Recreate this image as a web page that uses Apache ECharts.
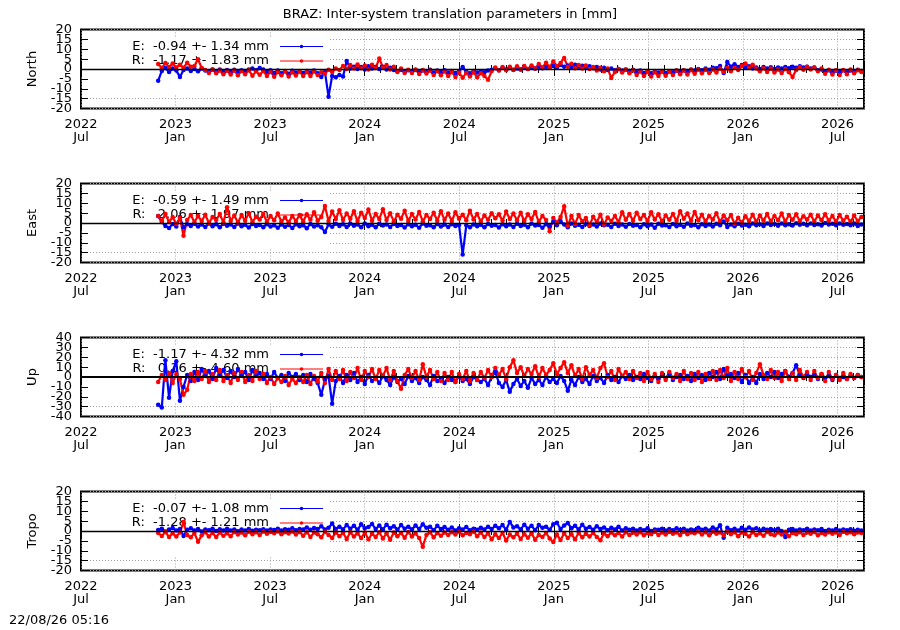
<!DOCTYPE html>
<html><head><meta charset="utf-8">
<script src="https://cdn.jsdelivr.net/npm/echarts@6/dist/echarts.min.js"></script>
<style>html,body{margin:0;padding:0;background:#fff}#c{width:900px;height:630px}</style>
</head><body><div id="c"></div>
<script>
const TITLE = 'BRAZ: Inter-system translation parameters in [mm]';
const STAMP = '22/08/26 05:16';
const PANELS = ['North', 'East', 'Up', 'Tropo'];
const Y_MIN = [-20, -20, -40, -20];
const Y_MAX = [20, 20, 40, 20];
const Y_STEP = [5, 5, 10, 5];
const LEGEND_E = ['E:  -0.94 +- 1.34 mm', 'E:  -0.59 +- 1.49 mm', 'E:  -1.17 +- 4.32 mm', 'E:  -0.07 +- 1.08 mm'];
const LEGEND_R = ['R:  -1.17 +- 1.83 mm', 'R:   2.06 +- 1.97 mm', 'R:   0.16 +- 4.60 mm', 'R:  -1.28 +- 1.21 mm'];
const X_TICK_LABELS = [['2022','Jul'],['2023','Jan'],['2023','Jul'],['2024','Jan'],['2024','Jul'],['2025','Jan'],['2025','Jul'],['2026','Jan'],['2026','Jul']];
const X_START = '2022-07-01';
const X_END = '2026-08-21';
const START = '2022-11-27';
const STEP_DAYS = 7;

const NORTH_E = [
-6.0,-1.0,0.5,-1.5,0.2,-0.8,-4.0,-0.5,0.3,-1.0,
0.0,-1.2,0.2,-0.8,-1.5,-0.3,-1.4,-0.2,-1.6,-0.5,
-1.5,-0.4,-1.2,-0.6,-1.0,-0.2,0.3,-0.6,0.5,-0.3,
-1.4,-0.6,-2.0,-0.8,-2.2,-1.0,-2.4,-0.9,-1.8,-1.2,
-2.0,-1.0,-1.8,-0.8,-2.2,-4.0,-1.5,-14.0,-3.5,-4.2,
-3.0,-3.8,4.0,0.2,1.2,0.0,1.0,-0.2,1.4,0.3,
1.0,0.0,1.2,-0.2,0.6,-0.5,-1.2,-0.4,-1.5,-0.6,
-1.3,-0.5,-1.6,-0.7,-1.2,-0.4,-1.8,-0.8,-1.5,-0.6,
-1.8,-1.0,-2.0,-1.2,1.0,-1.4,-2.2,-1.0,-1.8,-1.2,
-1.6,-0.8,-0.4,0.4,-0.6,0.6,-0.2,0.5,-0.5,0.3,
-0.3,0.6,0.0,0.8,0.2,1.0,0.4,1.2,0.6,1.5,
0.8,2.0,1.2,1.8,0.8,2.2,1.0,1.6,0.6,1.4,
0.4,1.0,-0.2,0.6,-0.5,0.2,-0.6,0.0,-0.8,-0.2,
-1.0,-0.4,-1.6,-0.8,-2.0,-1.0,-2.2,-1.2,-1.8,-1.0,
-2.0,-1.2,-1.6,-0.8,-1.4,-0.6,-1.0,-0.2,-0.8,0.0,
-0.6,0.2,-0.4,0.6,0.4,1.5,-2.0,3.5,1.2,2.4,
1.0,2.0,0.8,1.4,0.2,0.8,0.0,1.0,0.2,0.9,
0.0,0.8,0.2,1.0,0.4,1.2,0.6,1.4,0.8,1.2,
0.2,0.8,-0.6,-0.2,-1.4,-0.6,-1.6,-0.8,-1.4,-0.6,
-1.6,-0.8,-1.2,-0.4,-1.0];
const NORTH_R = [
2.5,0.5,3.0,1.0,2.8,0.8,2.2,0.6,3.2,1.2,
1.5,5.0,0.5,-0.5,-2.0,-0.3,-2.2,-0.8,-2.6,-0.9,
-2.8,-0.8,-3.2,-1.0,-2.6,-0.6,-3.4,-1.2,-2.9,-1.0,
-3.6,-1.4,-3.9,-1.5,-3.2,-1.2,-3.8,-1.7,-3.3,-1.3,
-3.5,-1.5,-3.6,-1.2,-3.0,-1.6,-2.4,-0.4,-1.5,0.3,
-0.5,1.5,0.0,2.0,0.2,2.3,0.4,1.8,-0.2,2.2,
0.5,5.3,0.8,2.0,-0.2,1.2,-1.5,0.2,-2.0,-0.4,
-2.0,-0.2,-2.5,-0.5,-2.3,-0.8,-3.0,-1.0,-3.2,-1.2,
-3.6,-1.5,-4.0,-1.8,-4.4,-2.0,-3.8,-1.6,-4.2,-2.2,
-3.5,-5.5,-1.0,0.8,-0.8,1.0,-0.6,1.2,-0.4,1.4,
-0.3,1.5,0.0,1.8,0.3,2.5,0.8,3.2,1.0,3.8,
1.5,3.0,5.6,1.2,2.6,0.4,2.0,0.2,1.8,0.0,
1.0,-0.8,0.6,-1.2,0.2,-4.5,-1.5,0.0,-1.8,-0.3,
-2.2,-0.6,-3.0,-1.2,-3.6,-1.4,-3.8,-1.6,-3.5,-1.3,
-3.4,-1.2,-3.0,-0.8,-2.6,-0.6,-2.8,-0.5,-2.4,-0.3,
-2.2,-0.4,-2.0,-0.2,-1.8,0.2,-1.5,0.5,-1.2,0.6,
-0.5,1.5,2.8,0.8,2.2,0.2,-1.2,0.4,-1.5,0.2,
-1.8,-0.2,-2.0,0.0,-1.6,-4.0,-0.5,1.0,-0.4,1.2,
-0.2,0.8,-1.2,0.2,-2.4,-0.4,-2.8,-0.6,-3.0,-0.5,
-2.6,-0.3,-2.2,-0.6,-1.5];
const EAST_E = [
3.5,0.5,-1.5,-2.5,-0.5,-1.8,3.0,-2.2,-0.6,-1.5,
-0.4,-1.8,-0.8,-2.0,-0.2,-1.6,-0.6,-2.2,-0.4,-1.4,
-0.8,-2.0,-0.3,-1.6,-0.9,-2.3,-0.5,-1.5,-1.0,-2.1,
-0.6,-1.8,-1.2,-2.4,-0.7,-1.9,-1.0,-2.5,-0.6,-1.7,
-1.1,-2.6,-0.5,-1.8,-1.2,-2.2,-4.5,-0.8,-1.9,-0.4,
-1.5,-0.6,-2.0,-0.3,-1.4,-0.8,-2.1,-0.2,-1.6,-0.9,
-2.2,-0.4,-1.3,-0.7,-2.0,-0.5,-1.5,-1.0,-2.3,-0.6,
-1.7,-0.9,-2.4,-0.3,-1.4,-1.1,-2.2,-0.5,-1.8,-0.8,
-2.0,-0.6,-1.5,-1.0,-16.0,-1.2,-2.1,-0.7,-1.6,-0.9,
-2.2,-0.5,-1.4,-1.0,-2.3,-0.6,-1.7,-0.8,-2.0,-0.4,
-1.5,-0.9,-2.1,-0.3,-1.3,-1.0,-2.4,-0.6,-1.6,0.5,
-1.2,1.0,-0.8,-2.2,-0.2,-1.4,-0.9,-2.0,-0.5,-1.5,
-0.7,-1.8,-0.3,-1.2,-0.9,-2.0,-0.4,-1.5,-0.8,-1.9,
-0.5,-1.4,-1.0,-2.2,-0.6,-1.6,-0.8,-2.4,-0.4,-1.3,
-1.1,-2.0,-0.5,-1.6,-0.9,-1.9,-0.3,-1.4,-1.0,-2.1,
-0.6,-1.5,-0.8,-1.8,-0.4,-1.2,0.8,-2.0,-0.7,-1.6,
-0.4,-1.3,-0.9,-1.7,-0.3,-1.1,-0.6,-1.5,-0.2,-1.0,
-0.5,-1.4,-0.2,-1.1,-0.6,-1.3,-0.1,-0.9,-0.4,-1.2,
-0.3,-1.0,-0.6,-1.3,0.0,-0.8,-0.4,-1.1,-0.2,-0.9,
-0.5,-1.2,-0.3,-1.5,-0.8];
const EAST_R = [
3.5,1.0,4.5,0.5,3.0,-0.5,2.5,-6.5,1.5,4.0,
0.5,3.5,1.0,4.2,0.0,3.0,1.5,4.5,0.3,8.0,
1.0,3.8,0.2,4.0,1.2,5.0,0.5,3.2,1.8,4.6,
0.6,3.5,1.4,4.8,0.8,2.8,0.2,3.6,1.0,4.0,
0.8,4.4,1.6,5.5,1.2,3.0,8.6,1.0,5.8,2.0,
6.5,1.5,4.8,2.2,6.0,1.0,5.2,2.5,6.8,1.2,
4.6,2.0,7.0,1.5,5.0,0.8,4.2,2.2,6.2,1.0,
4.5,1.8,5.6,0.8,4.0,2.0,5.2,1.2,6.0,1.6,
4.8,1.0,5.4,2.2,4.2,1.4,6.2,1.8,4.6,0.8,
3.8,1.6,5.0,2.4,4.4,1.2,5.8,2.0,4.8,1.4,
5.2,1.0,4.4,2.0,5.6,0.5,3.6,1.5,-4.2,2.5,
0.2,3.0,8.5,-1.5,3.5,-0.5,4.0,0.8,2.5,-1.2,
3.2,0.5,4.2,-0.8,2.8,1.0,3.6,0.4,5.5,1.6,
4.6,1.2,5.2,2.0,4.0,1.0,5.4,1.8,4.4,0.8,
3.8,1.6,4.6,1.0,6.0,2.2,4.8,1.2,5.6,1.4,
4.2,0.8,3.6,1.8,5.0,0.6,3.8,1.4,4.0,-0.4,
2.6,0.2,3.4,1.0,4.2,0.6,3.8,1.2,4.6,0.8,
3.6,1.4,4.8,0.6,4.0,1.6,4.4,1.0,3.4,1.8,
4.2,0.8,3.8,1.4,4.4,1.2,3.6,0.6,4.0,1.2,
3.2,0.6,3.8,1.0,3.0];
const UP_E = [
-28.0,-31.0,17.0,-21.0,6.0,16.0,-24.0,-10.0,2.0,-4.0,
5.0,-3.0,8.0,1.0,6.0,-2.0,9.0,2.0,7.0,-1.0,
6.0,0.0,8.0,2.0,5.0,-3.0,7.0,1.0,4.0,-2.0,
3.0,-2.0,5.0,-1.0,2.0,-4.0,4.0,0.0,3.0,-3.0,
2.0,-5.0,3.0,-2.0,-6.0,-18.0,-3.0,1.0,-27.0,-4.0,
1.0,-6.0,2.0,-3.0,4.0,-5.0,0.0,-7.0,2.0,-4.0,
-1.0,-6.0,1.0,-3.0,-8.0,0.0,-5.0,-2.0,-7.0,1.0,
-4.0,-1.0,-6.0,0.0,-3.0,-8.0,1.0,-4.0,-2.0,-6.0,
0.0,-3.0,-5.0,1.0,-4.0,-2.0,-7.0,0.0,-3.0,-5.0,
-2.0,-8.0,0.0,5.0,-6.0,-10.0,-3.0,-15.0,-7.0,-2.0,
-9.0,-4.0,-11.0,-1.0,-7.0,-3.0,-8.0,0.0,-5.0,-2.0,
-6.0,1.0,-4.0,-14.0,-3.0,-8.0,0.0,-5.0,-2.0,-7.0,
1.0,-4.0,-1.0,-6.0,2.0,-3.0,0.0,-5.0,1.0,-2.0,
2.0,-3.0,0.0,-2.0,3.0,-1.0,-4.0,1.0,-2.0,2.0,
-1.0,3.0,-3.0,0.0,2.0,-2.0,1.0,-4.0,3.0,-1.0,
2.0,-3.0,4.0,0.0,5.0,-2.0,8.0,1.0,3.0,-1.0,
4.0,-5.0,2.0,-6.0,0.0,-6.0,3.0,-2.0,4.0,0.0,
5.0,-1.0,3.0,6.0,0.0,4.0,12.0,2.0,-1.0,3.0,
0.0,2.0,-2.0,3.0,-1.0,1.0,-3.0,2.0,-1.0,0.0,
-2.0,1.0,-1.0,2.0,0.0];
const UP_R = [
-5.0,2.0,-3.0,4.0,-6.0,3.0,-2.0,-18.0,-13.0,3.0,
-4.0,5.0,-2.0,6.0,-5.0,3.0,-3.0,7.0,-4.0,2.0,
-6.0,4.0,-3.0,5.0,-5.0,2.0,-4.0,6.0,-2.0,3.0,
-6.0,0.0,-7.0,-1.0,-5.0,1.0,-8.0,-2.0,-6.0,0.0,
-5.0,2.0,-7.0,1.0,-4.0,4.0,-6.0,8.0,-3.0,6.0,
-2.0,7.0,-4.0,5.0,-1.0,9.0,-3.0,6.0,0.0,8.0,
-2.0,7.0,1.0,9.0,-3.0,6.0,-4.0,-12.0,2.0,8.0,
-1.0,6.0,-3.0,13.0,0.0,7.0,-2.0,5.0,-4.0,4.0,
-3.0,5.0,-5.0,3.0,-2.0,6.0,-4.0,4.0,-3.0,5.0,
-1.0,7.0,0.0,9.0,2.0,8.0,-2.0,10.0,17.0,4.0,
10.0,1.0,8.0,3.0,11.0,0.0,9.0,2.0,7.0,14.0,
3.0,9.0,15.0,4.0,12.0,1.0,8.0,-2.0,10.0,2.0,
7.0,-1.0,9.0,14.0,0.0,6.0,-3.0,8.0,1.0,5.0,
-2.0,6.0,-1.0,4.0,-4.0,5.0,-2.0,3.0,-5.0,4.0,
-3.0,5.0,-1.0,3.0,-4.0,6.0,-2.0,4.0,-3.0,5.0,
-5.0,3.0,-2.0,6.0,-3.0,7.0,-1.0,9.0,-4.0,5.0,
-2.0,8.0,0.0,6.0,-3.0,4.0,13.0,2.0,-2.0,7.0,
-1.0,5.0,-4.0,6.0,-2.0,4.0,-3.0,7.0,0.0,5.0,
-3.0,6.0,-1.0,3.0,-4.0,5.0,-2.0,2.0,-3.0,4.0,
-2.0,3.0,-1.0,2.0,0.0];
const TROPO_E = [
0.5,1.2,-0.3,0.8,1.5,0.2,1.0,-2.5,0.6,1.4,
0.3,1.0,-0.2,0.8,0.4,1.2,0.0,0.9,0.3,1.1,
0.2,0.8,-0.1,0.7,0.3,1.0,0.1,0.6,0.4,0.9,
0.2,0.8,0.5,1.2,0.3,0.9,0.6,1.4,0.4,1.0,
0.8,1.8,0.6,1.5,1.0,2.4,0.8,1.6,3.8,1.0,
2.2,0.8,3.0,1.2,2.6,0.6,3.4,1.4,2.0,3.6,
1.0,2.8,0.8,3.2,1.4,2.4,0.6,3.0,1.2,2.2,
0.8,2.8,1.0,3.4,1.6,2.2,0.4,2.6,1.0,2.0,
0.6,1.8,0.2,1.4,0.8,2.0,0.4,1.2,0.6,1.6,
0.8,2.2,1.0,2.6,1.4,3.0,0.6,4.6,1.8,2.4,
0.8,3.2,1.2,2.6,0.4,3.0,1.6,2.2,0.6,3.4,
4.2,1.0,2.8,4.0,1.4,2.6,0.8,3.2,1.2,2.0,
0.6,2.4,1.0,1.8,0.4,1.6,0.8,2.2,0.2,1.4,
0.6,1.2,0.2,1.0,0.4,1.4,0.0,0.8,0.6,1.2,
0.2,1.0,0.4,1.4,0.6,1.2,0.2,0.8,0.4,1.6,
0.6,1.2,0.2,1.8,0.8,2.9,-3.4,1.6,0.4,1.2,
0.2,1.6,0.6,1.8,0.8,1.4,0.2,1.2,0.6,1.0,
0.4,1.2,0.0,-3.0,0.6,1.0,0.2,0.8,0.4,1.2,
0.2,0.8,0.4,1.0,0.0,0.6,0.3,1.0,0.2,0.7,
0.4,0.9,0.1,0.6,0.3];
const TROPO_R = [
-1.0,-2.5,-0.5,-3.0,-1.2,-2.8,-0.8,4.5,-2.0,-3.2,
-1.0,-5.5,-2.2,-0.6,-2.8,-1.0,-3.0,-0.8,-2.4,-1.2,
-2.6,-0.5,-1.8,-0.8,-2.2,-0.4,-1.6,-0.6,-2.0,-0.3,
-1.4,-0.5,-1.2,-0.2,-1.6,-0.6,-1.3,-0.3,-1.8,-0.5,
-2.4,-0.6,-3.0,-0.8,-1.6,-3.2,-0.4,-2.0,-3.5,-0.8,
-2.6,-1.0,-4.0,-0.6,-2.8,-1.2,-3.6,-0.8,-4.2,-1.4,
-3.0,-0.6,-3.8,-1.2,-4.4,-0.8,-2.6,-1.0,-3.4,-0.5,
-2.8,-1.2,-3.6,-8.0,-2.0,-0.6,-3.2,-1.0,-2.4,-0.8,
-2.0,-0.6,-1.8,-0.4,-2.2,-1.0,-1.6,-0.3,-2.6,-0.8,
-3.0,-1.2,-4.2,-1.6,-3.6,-1.0,-4.8,-1.8,-3.2,-1.4,
-4.0,-1.6,-3.4,-1.2,-4.4,-2.0,-3.0,-1.0,-3.8,-5.6,
-1.8,-4.6,-1.2,-3.6,-1.6,-4.2,-1.0,-3.2,-1.4,-2.8,
-1.0,-3.0,-4.7,-1.2,-2.6,-0.8,-2.2,-1.0,-2.8,-0.6,
-2.0,-0.8,-1.8,-0.6,-2.2,-1.0,-1.6,-0.4,-2.0,-0.8,
-1.8,-0.5,-1.4,-0.7,-2.0,-0.4,-1.6,-0.8,-1.2,-0.3,
-1.8,-0.6,-2.2,-0.4,-1.4,-0.8,-2.0,-0.2,-1.6,-0.6,
-2.6,-0.8,-1.4,-2.8,-0.6,-2.0,-1.2,-2.4,-0.5,-1.6,
-2.2,-0.8,-1.8,-0.4,-2.6,-1.0,-1.6,-0.6,-2.0,-0.8,
-1.4,-0.5,-2.2,-1.0,-1.8,-0.6,-1.4,-0.8,-2.0,-0.4,
-1.2,-0.6,-1.6,-0.8,-1.0];

const SERIES_E = [NORTH_E, EAST_E, UP_E, TROPO_E];
const SERIES_R = [NORTH_R, EAST_R, UP_R, TROPO_R];

const DAY = 86400000;
const XMIN = Date.parse(X_START + 'T00:00:00Z');
const XMAX = Date.parse(X_END + 'T00:00:00Z');
const HALF = 182.625 * DAY;
const MONTH = 30.4375 * DAY;
const T0 = Date.parse(START + 'T00:00:00Z');
const pts = arr => arr.map((v, i) => [T0 + i * STEP_DAYS * DAY, v]);

const FONT = 'DejaVu Sans';
const GRID_TOP = [29.5, 183.5, 337.5, 491.5];
const GRID_H = 79, GRID_L = 81, GRID_W = 783;
const BLUE = '#0000ff', RED = '#ff0000';

const grids = [], xAxes = [], yAxes = [], series = [], graphics = [];
const dotted = { color: '#a0a0a0', width: 1, type: [1, 2] };
const NY = 4; // y axes per grid

function xLabel(v) {
  const k = Math.round((v - XMIN) / HALF);
  if (Math.abs(v - (XMIN + k * HALF)) > DAY) return '';
  const l = X_TICK_LABELS[k];
  return l ? l[0] + '\n' + l[1] : '';
}

for (let g = 0; g < 4; g++) {
  grids.push({ left: GRID_L, top: GRID_TOP[g], width: GRID_W, height: GRID_H, show: true,
    borderColor: '#000', borderWidth: 2, backgroundColor: 'transparent', containLabel: false, outerBoundsMode: 'none' });
  const base = { type: 'value', gridIndex: g, min: XMIN, max: XMAX, axisLine: { show: false }, splitLine: { show: false } };
  xAxes.push(Object.assign({}, base, { position: 'bottom', interval: HALF,
    axisTick: { show: true, inside: true, length: 7, lineStyle: { color: '#000' } },
    axisLabel: { show: true, formatter: xLabel, fontFamily: FONT, fontSize: 13, color: '#000', lineHeight: 13, margin: 10, hideOverlap: false },
    splitLine: { show: true, lineStyle: dotted } }));
  xAxes.push(Object.assign({}, base, { position: 'bottom', interval: MONTH,
    axisTick: { show: true, inside: true, length: 4, lineStyle: { color: '#000' } }, axisLabel: { show: false } }));
  xAxes.push(Object.assign({}, base, { position: 'top', interval: HALF,
    axisTick: { show: true, inside: true, length: 7, lineStyle: { color: '#000' } }, axisLabel: { show: false } }));
  xAxes.push(Object.assign({}, base, { position: 'top', interval: MONTH,
    axisTick: { show: true, inside: true, length: 4, lineStyle: { color: '#000' } }, axisLabel: { show: false } }));
  const mn = Y_MIN[g], st = Y_STEP[g];
  const parity = p => v => (((Math.round((v - mn) / st) % 2) + 2) % 2 === p ? String(Math.round(v)) : '');
  const ybase = { type: 'value', gridIndex: g, min: Y_MIN[g], max: Y_MAX[g], interval: Y_STEP[g], axisLine: { show: false } };
  const lblStyle = { show: true, fontFamily: FONT, fontSize: 13, color: '#000', margin: 9, showMinLabel: true, showMaxLabel: true, hideOverlap: false };
  yAxes.push(Object.assign({}, ybase, { position: 'left',
    name: PANELS[g], nameLocation: 'middle', nameGap: 42, nameRotate: 90,
    nameTextStyle: { fontFamily: FONT, fontSize: 13, color: '#000' },
    axisTick: { show: true, inside: true, length: 7, lineStyle: { color: '#000' } },
    axisLabel: Object.assign({}, lblStyle, { formatter: parity(0) }),
    splitLine: { show: true, lineStyle: dotted } }));
  yAxes.push(Object.assign({}, ybase, { position: 'left',
    axisTick: { show: false }, splitLine: { show: false },
    axisLabel: Object.assign({}, lblStyle, { formatter: parity(1) }) }));
  yAxes.push(Object.assign({}, ybase, { position: 'right',
    axisTick: { show: true, inside: true, length: 7, lineStyle: { color: '#000' } },
    axisLabel: { show: false }, splitLine: { show: false } }));
  yAxes.push(Object.assign({}, ybase, { position: 'right', axisTick: { show: false },
    axisLabel: { show: false }, splitLine: { show: false } }));

  const common = { type: 'line', xAxisIndex: g * 4, yAxisIndex: g * NY, symbol: 'circle', symbolSize: 4.5,
    showSymbol: true, animation: false, z: 3, silent: true };
  series.push(Object.assign({}, common, { name: LEGEND_E[g], data: pts(SERIES_E[g]),
    itemStyle: { color: BLUE }, lineStyle: { width: 2.2, color: BLUE } }));
  series.push(Object.assign({}, common, { name: LEGEND_R[g], data: pts(SERIES_R[g]),
    itemStyle: { color: RED }, lineStyle: { width: 2.2, color: RED },
    markLine: { silent: true, symbol: ['none', 'none'], label: { show: false }, animation: false,
      lineStyle: { color: '#000', width: g === 2 ? 2 : 1.3, type: 'solid' }, data: [{ yAxis: 0 }] } }));

  const top = GRID_TOP[g];
  graphics.push({ type: 'rect', z: 1, silent: true, shape: { x: 88, y: top + 8, width: 242, height: 57 }, style: { fill: '#fff' } });
  const rows = [[LEGEND_E[g], BLUE, top + 17], [LEGEND_R[g], RED, top + 31.5]];
  rows.forEach(([txt, col, y]) => {
    graphics.push({ type: 'text', z: 2, silent: true, x: 269, y: y,
      style: { text: txt, font: '13px "DejaVu Sans"', fill: '#000', align: 'right', verticalAlign: 'middle' } });
    graphics.push({ type: 'line', z: 2, silent: true, shape: { x1: 280, y1: y, x2: 323, y2: y }, style: { stroke: col, lineWidth: 1 } });
    graphics.push({ type: 'circle', z: 2, silent: true, shape: { cx: 301.5, cy: y, r: 1.8 }, style: { fill: col } });
  });
}

const chart = echarts.init(document.getElementById('c'), null, { renderer: 'canvas' });
chart.setOption({
  backgroundColor: '#fff',
  animation: false,
  title: [
    { text: TITLE, left: 'center', top: 8, padding: 0, textStyle: { fontFamily: FONT, fontSize: 13, fontWeight: 'normal', color: '#000' } },
    { text: STAMP, left: 9, top: 614, padding: 0, textStyle: { fontFamily: FONT, fontSize: 13, fontWeight: 'normal', color: '#000' } }
  ],
  grid: grids,
  xAxis: xAxes,
  yAxis: yAxes,
  series: series,
  graphic: { elements: graphics }
});
</script>
</body></html>
